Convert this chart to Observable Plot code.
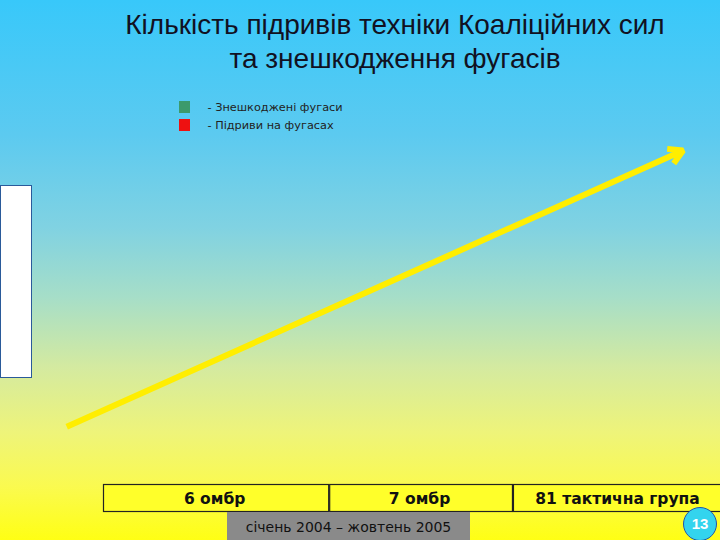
<!DOCTYPE html>
<html>
<head>
<meta charset="utf-8">
<script src="https://cdn.jsdelivr.net/npm/d3@7"></script>
<script src="https://cdn.jsdelivr.net/npm/@observablehq/plot@0.6"></script>
<style>
  html, body { margin: 0; padding: 0; }
  body { width: 720px; height: 540px; overflow: hidden; position: relative;
    background: linear-gradient(to bottom, #38c8fa 0%, #5ccaf0 25%, #80d2e2 42%, #a6dec8 55%, #d4eaa0 68%, #eef47a 80%, #fafa50 90%, #ffff14 100%);
    font-family: "Liberation Sans", Arial, sans-serif; }
  .layer { position: absolute; }
  #title { position: absolute; left: 70px; width: 650px; top: 8px; text-align: center;
    font-size: 28px; line-height: 34px; color: #111122; }
  #sidebox { position: absolute; left: 0; top: 185px; background: #fff; border: 1px solid #2a5a9a;
    box-sizing: border-box; width: 32px; height: 193px; }
  #period { position: absolute; left: 227px; top: 512px; width: 243px; height: 28px;
    background: #8a8a8a; color: #111; font-family: "DejaVu Sans", sans-serif; font-size: 14px; line-height: 30px; text-align: center; }
  #page { position: absolute; left: 683px; top: 507px; width: 32px; height: 32px; border-radius: 50%;
    background: #33d4ee; border: 1px solid #2255aa; color: #fff; font-size: 15px; font-weight: bold; line-height: 32px; text-align: center; }
</style>
</head>
<body>
<div id="title"></div>
<div id="sidebox"></div>
<div id="period"></div>
<div id="page"></div>
<script>
// ---- data ----
const titleLines = ["Кількість підривів техніки Коаліційних сил", "та знешкодження фугасів"];
const legendLabels = ["Знешкоджені фугаси", "Підриви на фугасах"];
const legendColors = ["#3c9a6c", "#ee1111"];
const units = ["6 омбр", "7 омбр", "81 тактична група"];
const unitStart = [0, 8, 14.5];   // months since Jan 2004
const unitEnd = [8, 14.5, 22];
const periodLabel = "січень 2004 – жовтень 2005";
const pageNumber = "13";
const trendMonths = [-1.3, 20.5];
const trendLevels = [15, 100];

// ---- text ----
document.getElementById("title").innerHTML = titleLines.join("<br>");
document.getElementById("period").textContent = periodLabel;
document.getElementById("page").textContent = pageNumber;

const months = {domain: [0, 22], range: [103, 725]};

// ---- trend arrow ----
const trend = [{x1: trendMonths[0], y1: trendLevels[0], x2: trendMonths[1], y2: trendLevels[1]}];
const main = Plot.plot({
  width: 720, height: 540, margin: 0,
  style: {background: "transparent", overflow: "visible"},
  x: {...months, axis: null},
  y: {domain: [0, 100], range: [475, 150], axis: null},
  marks: [
    Plot.arrow(trend, {x1: "x1", y1: "y1", x2: "x2", y2: "y2", stroke: "#ffee00", strokeWidth: 6,
      headLength: 4, headAngle: 60, strokeLinejoin: "miter", strokeLinecap: "butt"})
  ]
});
main.classList.add("layer"); main.style.left = "0px"; main.style.top = "0px";
document.body.appendChild(main);

// ---- legend ----
const legend = Plot.plot({
  width: 220, height: 42, margin: 0,
  style: {background: "transparent", overflow: "visible", fontFamily: "DejaVu Sans, sans-serif", fontSize: "11.3px"},
  x: {domain: [0, 220], range: [0, 220], axis: null},
  y: {type: "band", domain: legendLabels, range: [3, 39], padding: 0, axis: null},
  color: {domain: legendLabels, range: legendColors},
  marks: [
    Plot.barX(legendLabels, {y: d => d, x1: () => 9, x2: () => 20, fill: d => d, insetTop: 3, insetBottom: 3}),
    Plot.text(legendLabels, {y: d => d, x: () => 37, text: d => "- " + d, textAnchor: "start", fill: "#222"})
  ]
});
legend.classList.add("layer"); legend.style.left = "170px"; legend.style.top = "95px";
document.body.appendChild(legend);

// ---- unit timeline ----
const unitRows = units.map((u, i) => ({unit: u, start: unitStart[i], end: unitEnd[i]}));
const timeline = Plot.plot({
  width: 720, height: 28, margin: 0,
  style: {background: "transparent", overflow: "visible", fontFamily: "DejaVu Sans, sans-serif"},
  x: {...months, axis: null},
  marks: [
    Plot.rect(unitRows, {x1: "start", x2: "end", fill: "#ffff2a", stroke: "#222", strokeWidth: 1.2, inset: 0.5}),
    Plot.text(unitRows, {x: d => (d.start + d.end) / 2, text: "unit", fontSize: 15.5, fontWeight: "bold", fill: "#111", dx: -2, dy: 1})
  ]
});
timeline.classList.add("layer"); timeline.style.left = "0px"; timeline.style.top = "484px";
document.body.appendChild(timeline);
document.body.appendChild(document.getElementById("period"));
document.body.appendChild(document.getElementById("page"));
</script>
</body>
</html>
